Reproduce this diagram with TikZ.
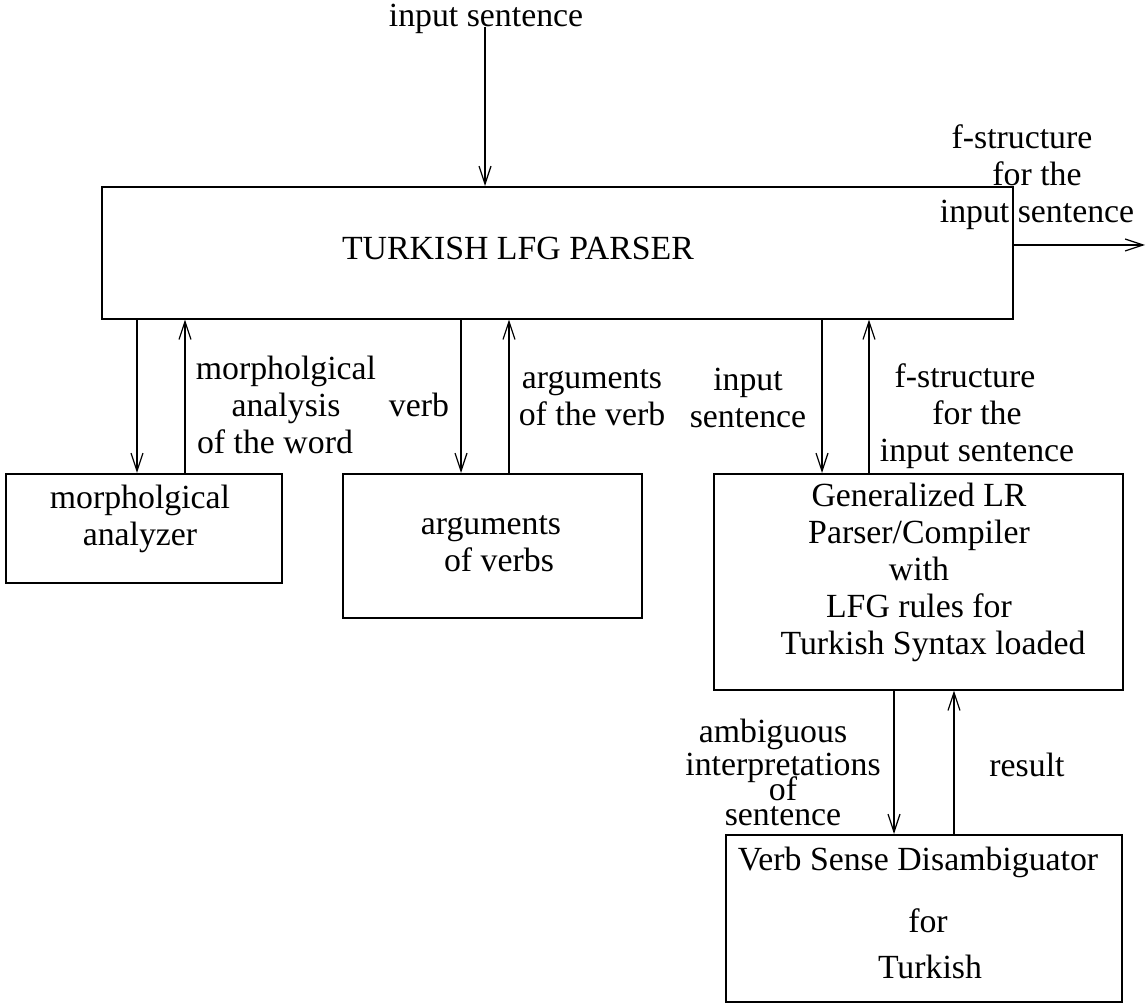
\documentclass[tikz,border=0pt]{standalone}
\usepackage{fontspec}
\setmainfont{Liberation Serif}
\usetikzlibrary{arrows.meta,calc}

\begin{document}
\begin{tikzpicture}[x=0.5pt,y=-0.5pt,
  box/.style={draw, line width=0.8pt, inner sep=0pt, anchor=north west},
  lbl/.style={align=center, inner sep=0pt, font=\fontsize{16.9}{18.5}\selectfont},
  arr/.style={line width=0.7pt, -{Straight Barb[length=9pt,width=6pt,line width=0.6pt]}}]

% page frame
\useasboundingbox (0,0) rectangle (1148,1005);

% boxes
\node[box, minimum width=455.5pt, minimum height=66pt] (main) at (101,186) {};
\node[box, minimum width=138pt, minimum height=54.5pt] (morph) at (5,473) {};
\node[box, minimum width=149.5pt, minimum height=72pt] (args) at (342,473) {};
\node[box, minimum width=204.5pt, minimum height=108pt] (glr) at (713,473) {};
\node[box, minimum width=198pt, minimum height=83.5pt] (vsd) at (725,834) {};

% box contents
\node[lbl] (maintxt) at (518,248) {TURKISH LFG PARSER};
\node[lbl] (morphtxt) at (140,519) {morpholgical\\analyzer};
\node[lbl] (argstxt) at (491,544) {arguments\\\hspace*{8pt}of verbs};
\node[lbl] (glrtxt) at (919,572) {Generalized LR\\Parser/Compiler\\with\\LFG rules for\\\hspace*{14pt}Turkish Syntax loaded};
\node[lbl] (vsd1) at (918,862) {Verb Sense Disambiguator};
\node[lbl] (vsd2) at (928,921) {for};
\node[lbl] (vsd3) at (930,967) {Turkish};

% free labels
\node[lbl] (intop) at (486,19) {input sentence};
\node[lbl] (fout) at (1037,177) {f-structure\hspace*{15pt}\\for the\\input sentence};
\node[lbl] (lmorph) at (286,405) {morpholgical\\analysis\hspace*{9pt}\\of the word\hspace*{11pt}};
\node[lbl] (lverb) at (419,405) {verb};
\node[lbl] (largs) at (592,398) {arguments\\of the verb};
\node[lbl] (linput) at (748,398) {input\\sentence};
\node[lbl] (lfstr) at (977,416) {f-structure\hspace*{12pt}\\for the\\input sentence};
\node[lbl, font=\fontsize{16.9}{16.5}\selectfont] (lamb) at (783,772) {ambiguous\hspace*{10pt}\\interpretations\\[-4pt]of\\[-4pt]sentence};
\node[lbl] (lres) at (1027,765) {result};
\coordinate (out) at (1145,245);

% connectors
\draw[arr] ($(intop.base)+(-1,0)$) -- ($(main.north west)+(384,0)$);
\draw[arr] ($(main.north east)+(0,59)$) -- (out);
\draw[arr] ($(main.south west)+(36,0)$) -- ($(morph.north west)+(132,0)$);
\draw[arr] ($(morph.north west)+(180,0)$) -- ($(main.south west)+(84,0)$);
\draw[arr] ($(main.south west)+(360,0)$) -- ($(args.north west)+(119,0)$);
\draw[arr] ($(args.north west)+(167,0)$) -- ($(main.south west)+(408,0)$);
\draw[arr] ($(main.south west)+(721,0)$) -- ($(glr.north west)+(109,0)$);
\draw[arr] ($(glr.north west)+(156,0)$) -- ($(main.south west)+(768,0)$);
\draw[arr] ($(glr.south west)+(181,0)$) -- ($(vsd.north west)+(169,0)$);
\draw[arr] ($(vsd.north west)+(229,0)$) -- ($(glr.south west)+(241,0)$);
\end{tikzpicture}
\end{document}
